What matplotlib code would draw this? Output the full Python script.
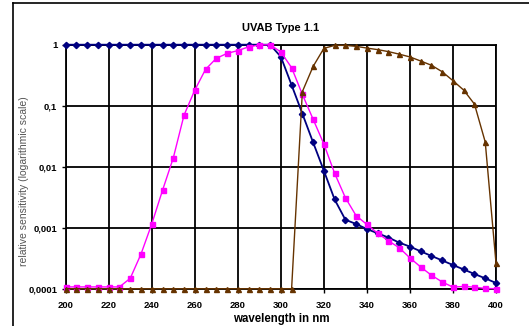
import matplotlib
matplotlib.use("Agg")
import matplotlib.pyplot as plt
from matplotlib.lines import Line2D

plt.rcParams['font.family'] = ['Liberation Sans', 'DejaVu Sans']

wavelength = list(range(200, 401, 5))

# blue curve (diamonds)
uvab_blue = [1] * 20 + [
    0.635, 0.218, 0.074, 0.025, 0.0086, 0.0029, 0.00135, 0.00115, 0.00095,
    0.00081, 0.00069, 0.00057, 0.00049, 0.00041, 0.000344, 0.000291,
    0.000244, 0.000207, 0.000174, 0.000148, 0.000124]

# magenta curve (squares)
uvab_magenta = [0.000107] * 6 + [
    0.000148, 0.00037, 0.00115, 0.0041, 0.0139, 0.070, 0.18, 0.394, 0.597,
    0.72, 0.80, 0.92, 0.99, 1.0, 0.76, 0.42, 0.153, 0.060, 0.0235, 0.0078,
    0.0031, 0.00157, 0.00113, 0.00081, 0.00061, 0.00047, 0.00032, 0.000227,
    0.000166, 0.000129, 0.000106, 0.000109, 0.000106, 0.000101, 0.0001]

# brown curve (triangles)
uvab_brown = [0.0001] * 22 + [
    0.17, 0.44, 0.87, 0.975, 0.975, 0.94, 0.88, 0.83, 0.77, 0.70, 0.63,
    0.54, 0.46, 0.36, 0.257, 0.18, 0.106, 0.0254, 0.000264]

yticks = [0.0001, 0.001, 0.01, 0.1, 1]
ytick_labels = ["0,0001", "0,001", "0,01", "0,1", "1"]
xticks = list(range(200, 401, 20))

fig = plt.figure(figsize=(5.29, 3.26), dpi=100)
ax = fig.add_axes([0.1242, 0.1144, 0.8134, 0.7485])

ax.plot(wavelength, uvab_blue, color="#000080", lw=1.3, marker="D", ms=3.2,
        clip_on=False, zorder=3)
ax.plot(wavelength, uvab_magenta, color="#FF00FF", lw=1.0, marker="s", ms=3.6,
        clip_on=False, zorder=4)
ax.plot(wavelength, uvab_brown, color="#663300", lw=1.0, marker="^", ms=3.6,
        clip_on=False, zorder=5)

ax.set_yscale("log")
ax.set_ylim(0.0001, 1)
ax.set_xlim(200, 400)
ax.set_yticks(yticks)
ax.set_yticklabels(ytick_labels)
ax.minorticks_off()
ax.set_xticks(xticks)
ax.grid(True, color="black", lw=1.3)
for s in ax.spines.values():
    s.set_color("black")
    s.set_linewidth(1.3)
ax.tick_params(axis="both", labelsize=6.8, length=3, width=1, color="black", pad=3)
for lab in ax.get_xticklabels() + ax.get_yticklabels():
    lab.set_fontweight("bold")
ax.tick_params(axis="x", pad=6)

ax.set_title("UVAB Type 1.1", fontsize=8, fontweight="bold", pad=10)
ax.set_xlabel("wavelength in nm", fontsize=8.3, fontweight="bold", labelpad=2)
ax.set_ylabel("relative sensitivity (logarithmic scale)", fontsize=7.5,
              color="#555555")
ax.yaxis.set_label_coords(-0.085, 0.44)

# outer frame (left and top edges visible)
fig.add_artist(Line2D([13 / 529, 13 / 529], [0, 1 - 3 / 326], color="black",
                      lw=1.2, transform=fig.transFigure))
fig.add_artist(Line2D([13 / 529, 1], [1 - 3 / 326, 1 - 3 / 326], color="black",
                      lw=1.2, transform=fig.transFigure))

fig.savefig("out.png", dpi=100)
